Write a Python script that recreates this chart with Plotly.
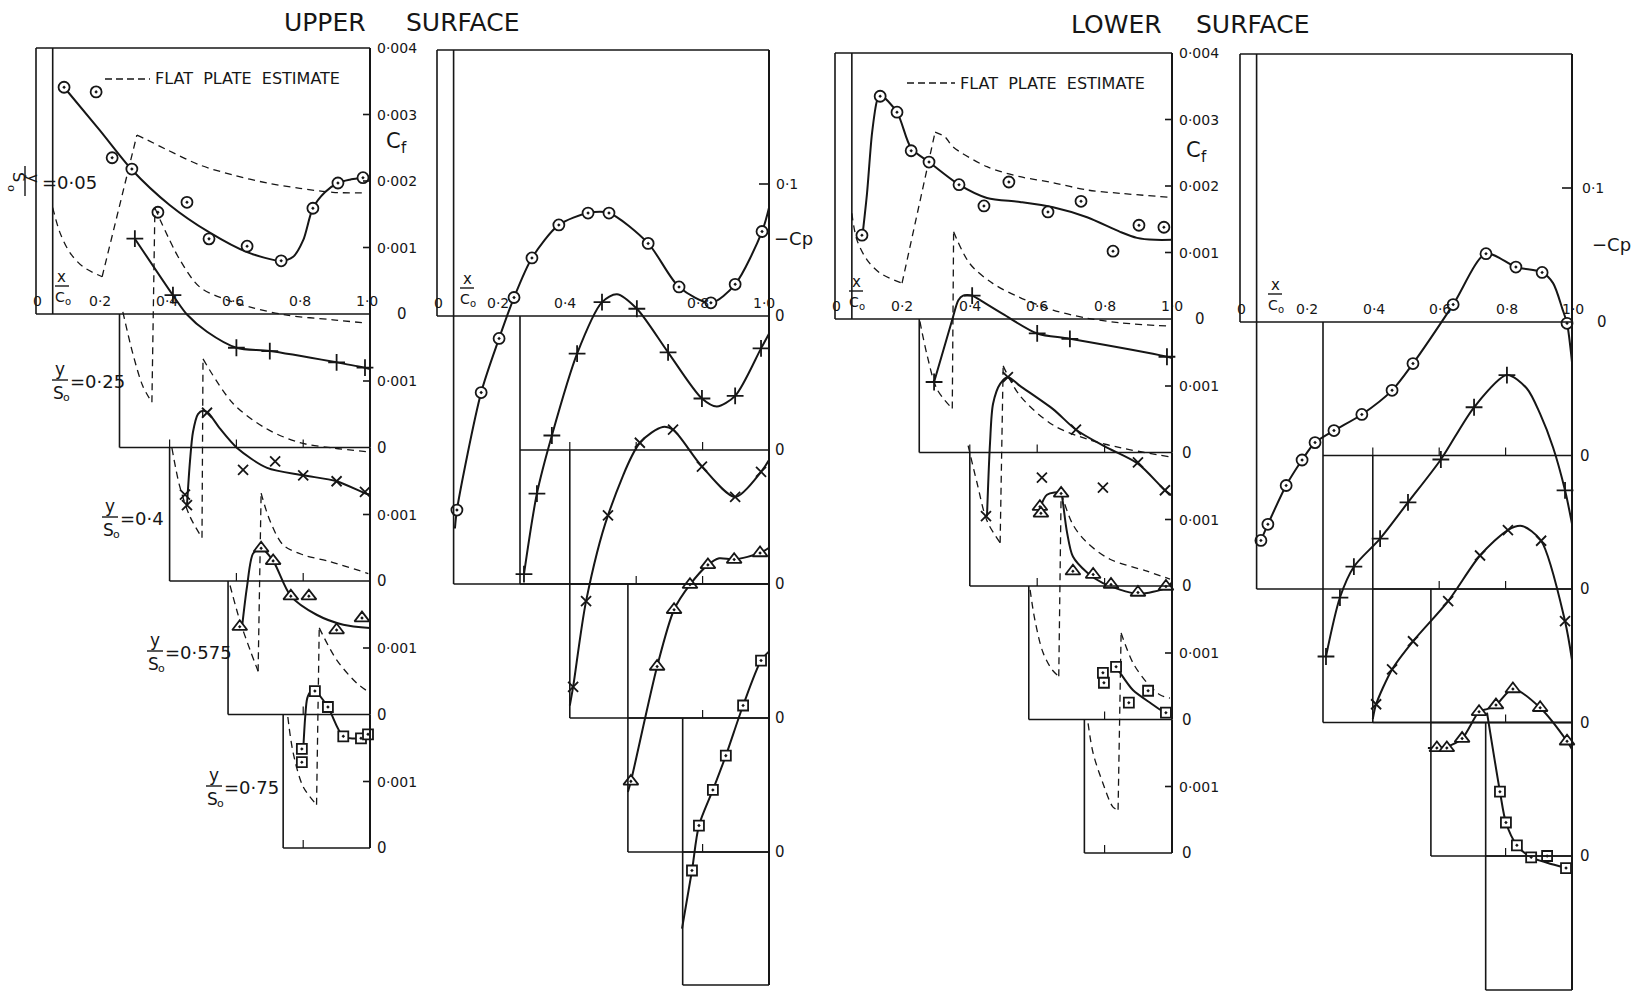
import plotly.graph_objects as go

W, H = 1638, 991
FONT = "DejaVu Sans"
INK = "#161616"

# ---------------------------------------------------------------- data
STATION_LABELS = ["0·05", "0·25", "0·4", "0·575", "0·75"]
LEADING_EDGE = [0.05, 0.25, 0.40, 0.575, 0.74]
SYMBOLS = ["circle-dot", "cross-thin-open", "x-thin-open", "triangle-up-dot", "square-dot"]
SYM_SIZE = [11, 12, 10, 13, 10]
SYM_FILL = ["white", "#161616", "#161616", "white", "white"]
CF_TOP_TICKS = [0.001, 0.002, 0.003, 0.004]
CF_TOP_TICK_TEXT = ["0·001", "0·002", "0·003", "0·004"]
CF_STATION_TICK = 0.001
CP_TICK = 0.1
X_TICKS = [0.2, 0.4, 0.6, 0.8, 1.0]
X_TICK_TEXT = ["0·2", "0·4", "0·6", "0·8", "1·0"]

# upper surface, skin friction Cf
ucf_pts_x = [
    [0.084, 0.18, 0.228, 0.287, 0.365, 0.452, 0.518, 0.632, 0.734, 0.829, 0.904, 0.979],
    [0.296, 0.41, 0.60, 0.70, 0.90, 0.985],
    [0.446, 0.452, 0.512, 0.62, 0.716, 0.80, 0.90, 0.985],
    [0.61, 0.674, 0.71, 0.763, 0.817, 0.90, 0.976],
    [0.796, 0.796, 0.835, 0.874, 0.92, 0.973, 0.994],
]
ucf_pts_cf = [
    [0.00341, 0.00334, 0.00235, 0.00218, 0.00153, 0.00168, 0.00113, 0.00102, 0.00080, 0.00159, 0.00197, 0.00205],
    [0.00314, 0.00229, 0.00150, 0.00145, 0.00128, 0.00120],
    [0.00130, 0.00114, 0.00253, 0.00167, 0.00180, 0.00159, 0.00150, 0.00134],
    [0.00132, 0.00250, 0.00231, 0.00178, 0.00178, 0.00127, 0.00145],
    [0.00149, 0.00129, 0.00236, 0.00212, 0.00168, 0.00165, 0.00171],
]
ucf_fit_x = [
    [0.084, 0.19, 0.287, 0.40, 0.518, 0.632, 0.734, 0.77, 0.80, 0.829, 0.865, 0.904, 0.94, 0.979, 1.0],
    [0.296, 0.41, 0.452, 0.512, 0.60, 0.70, 0.90, 0.985, 1.0],
    [0.452, 0.461, 0.47, 0.485, 0.50, 0.515, 0.551, 0.602, 0.692, 0.80, 0.90, 0.985, 1.0],
    [0.617, 0.632, 0.65, 0.674, 0.71, 0.763, 0.84, 0.92, 1.0],
    [0.80, 0.806, 0.812, 0.822, 0.835, 0.874, 0.92, 0.973, 1.0],
]
ucf_fit_cf = [
    [0.00341, 0.00277, 0.00217, 0.00164, 0.00123, 0.00093, 0.00080, 0.00086, 0.00111, 0.00159, 0.00183, 0.00197, 0.00202, 0.00205, 0.00207],
    [0.00314, 0.00229, 0.00200, 0.00174, 0.00150, 0.00145, 0.00128, 0.00120, 0.00118],
    [0.00114, 0.00180, 0.00224, 0.00251, 0.00256, 0.00253, 0.00229, 0.00200, 0.00170, 0.00159, 0.00150, 0.00132, 0.00130],
    [0.00132, 0.00193, 0.00242, 0.00250, 0.00231, 0.00178, 0.00150, 0.00135, 0.00130],
    [0.00147, 0.00197, 0.00225, 0.00235, 0.00236, 0.00212, 0.00168, 0.00165, 0.00170],
]
ucf_lam_x = [
    [0.05, 0.072, 0.102, 0.141, 0.198],
    [0.26, 0.29, 0.32, 0.347],
    [0.407, 0.43, 0.46, 0.497],
    [0.581, 0.611, 0.641, 0.665],
    [0.754, 0.77, 0.80, 0.84],
]
ucf_lam_cf = [
    [0.00160, 0.00122, 0.00092, 0.00071, 0.00056],
    [0.00204, 0.00141, 0.00092, 0.00068],
    [0.00200, 0.00143, 0.00098, 0.00065],
    [0.00194, 0.00140, 0.00097, 0.00065],
    [0.00197, 0.00143, 0.00092, 0.00065],
]
ucf_turb_x = [
    [0.302, 0.332, 0.392, 0.491, 0.59, 0.692, 0.79, 0.889, 0.991],
    [0.356, 0.431, 0.491, 0.572, 0.65, 0.751, 0.889, 0.99],
    [0.50, 0.59, 0.69, 0.79, 0.89, 1.0],
    [0.674, 0.70, 0.74, 0.80, 0.88, 0.995],
    [0.848, 0.90, 0.96, 0.995],
]
ucf_turb_cf = [
    [0.00269, 0.00262, 0.00247, 0.00224, 0.00209, 0.00197, 0.00189, 0.00183, 0.00182],
    [0.00360, 0.00282, 0.00241, 0.00222, 0.00210, 0.00199, 0.00192, 0.00187],
    [0.00334, 0.00267, 0.00229, 0.00208, 0.00200, 0.00194],
    [0.00333, 0.00292, 0.00255, 0.00240, 0.00230, 0.00212],
    [0.00331, 0.00283, 0.00248, 0.00235],
]

# lower surface, skin friction Cf
lcf_pts_x = [
    [0.08, 0.134, 0.184, 0.226, 0.279, 0.368, 0.442, 0.516, 0.632, 0.73, 0.825, 0.902, 0.976],
    [0.294, 0.407, 0.60, 0.697, 0.985],
    [0.448, 0.513, 0.614, 0.715, 0.795, 0.899, 0.979],
    [0.608, 0.611, 0.671, 0.706, 0.766, 0.819, 0.899, 0.982],
    [0.795, 0.798, 0.834, 0.872, 0.929, 0.982],
]
lcf_pts_cf = [
    [0.00126, 0.00335, 0.00311, 0.00253, 0.00236, 0.00202, 0.00170, 0.00206, 0.00161, 0.00177, 0.00102, 0.00141, 0.00138],
    [0.00106, 0.00236, 0.00179, 0.00171, 0.00144],
    [0.00105, 0.00314, 0.00163, 0.00235, 0.00148, 0.00186, 0.00144],
    [0.00320, 0.00310, 0.00340, 0.00223, 0.00218, 0.00203, 0.00191, 0.00200],
    [0.00271, 0.00256, 0.00280, 0.00226, 0.00244, 0.00211],
]
lcf_fit_x = [
    [0.08, 0.095, 0.11, 0.125, 0.134, 0.184, 0.226, 0.279, 0.368, 0.451, 0.549, 0.647, 0.748, 0.846, 0.896, 0.95, 1.0],
    [0.294, 0.347, 0.366, 0.38, 0.407, 0.421, 0.499, 0.60, 0.697, 0.985, 1.0],
    [0.451, 0.46, 0.469, 0.49, 0.513, 0.549, 0.647, 0.715, 0.80, 0.899, 0.979, 1.0],
    [0.608, 0.629, 0.671, 0.675, 0.688, 0.706, 0.748, 0.795, 0.899, 0.982, 1.0],
    [0.822, 0.834, 0.846, 0.884, 0.935, 0.982, 1.0],
]
lcf_fit_cf = [
    [0.00119, 0.00189, 0.00280, 0.00329, 0.00337, 0.00311, 0.00257, 0.00236, 0.00202, 0.00182, 0.00176, 0.00168, 0.00153, 0.00131, 0.00122, 0.00119, 0.00119],
    [0.00106, 0.00198, 0.00229, 0.00236, 0.00236, 0.00232, 0.00208, 0.00179, 0.00171, 0.00144, 0.00142],
    [0.00105, 0.00215, 0.00274, 0.00304, 0.00314, 0.00301, 0.00266, 0.00235, 0.00210, 0.00184, 0.00144, 0.00136],
    [0.00317, 0.00338, 0.00341, 0.00331, 0.00283, 0.00245, 0.00221, 0.00205, 0.00189, 0.00198, 0.00206],
    [0.00286, 0.00280, 0.00271, 0.00245, 0.00226, 0.00211, 0.00213],
]
lcf_lam_x = [
    [0.05, 0.065, 0.095, 0.134, 0.199],
    [0.252, 0.273, 0.303, 0.348],
    [0.395, 0.421, 0.451, 0.49],
    [0.579, 0.593, 0.617, 0.644, 0.664],
    [0.751, 0.766, 0.795, 0.825, 0.84],
]
lcf_lam_cf = [
    [0.00159, 0.00119, 0.00089, 0.00069, 0.00054],
    [0.00197, 0.00147, 0.00095, 0.00066],
    [0.00211, 0.00156, 0.00098, 0.00065],
    [0.00195, 0.00150, 0.00101, 0.00075, 0.00065],
    [0.00195, 0.00150, 0.00105, 0.00069, 0.00065],
]
lcf_turb_x = [
    [0.297, 0.326, 0.35, 0.451, 0.549, 0.647, 0.748, 0.846, 0.994],
    [0.352, 0.40, 0.469, 0.549, 0.647, 0.748, 0.846, 0.994],
    [0.499, 0.549, 0.647, 0.748, 0.846, 0.994],
    [0.671, 0.706, 0.748, 0.816, 0.926, 0.994],
    [0.849, 0.884, 0.926, 0.964, 0.994],
]
lcf_turb_cf = [
    [0.00281, 0.00274, 0.00259, 0.00229, 0.00214, 0.00205, 0.00194, 0.00189, 0.00183],
    [0.00332, 0.00284, 0.00254, 0.00233, 0.00214, 0.00202, 0.00195, 0.00190],
    [0.00331, 0.00286, 0.00242, 0.00221, 0.00208, 0.00194],
    [0.00341, 0.00293, 0.00266, 0.00241, 0.00223, 0.00211],
    [0.00331, 0.00286, 0.00256, 0.00238, 0.00233],
]

# upper surface, pressure (-Cp)
ucp_pts_x = [
    [0.06, 0.133, 0.187, 0.232, 0.286, 0.367, 0.455, 0.518, 0.636, 0.729, 0.825, 0.898, 0.979],
    [0.262, 0.301, 0.346, 0.422, 0.497, 0.602, 0.696, 0.798, 0.898, 0.976],
    [0.41, 0.449, 0.515, 0.611, 0.711, 0.798, 0.898, 0.976],
    [0.584, 0.663, 0.714, 0.762, 0.816, 0.895, 0.973],
    [0.768, 0.789, 0.831, 0.87, 0.922, 0.976],
]
ucp_pts_mcp = [
    [-0.147, -0.058, -0.017, 0.014, 0.044, 0.069, 0.078, 0.078, 0.055, 0.022, 0.010, 0.024, 0.064],
    [-0.094, -0.033, 0.011, 0.073, 0.112, 0.107, 0.074, 0.039, 0.041, 0.077],
    [-0.078, -0.013, 0.052, 0.107, 0.117, 0.089, 0.066, 0.085],
    [-0.048, 0.039, 0.082, 0.101, 0.116, 0.120, 0.125],
    [-0.014, 0.020, 0.047, 0.073, 0.111, 0.145],
]
ucp_fit_x = [
    [0.054, 0.06, 0.133, 0.187, 0.232, 0.286, 0.367, 0.455, 0.518, 0.636, 0.729, 0.825, 0.898, 0.979, 1.0],
    [0.262, 0.301, 0.346, 0.422, 0.497, 0.542, 0.602, 0.696, 0.798, 0.843, 0.898, 0.976, 1.0],
    [0.40, 0.41, 0.449, 0.515, 0.611, 0.68, 0.711, 0.798, 0.898, 0.976, 1.0],
    [0.575, 0.584, 0.663, 0.714, 0.762, 0.816, 0.85, 0.895, 0.973, 1.0],
    [0.738, 0.768, 0.789, 0.831, 0.87, 0.922, 0.976, 1.0],
]
ucp_fit_mcp = [
    [-0.161, -0.147, -0.058, -0.017, 0.014, 0.044, 0.069, 0.078, 0.078, 0.055, 0.022, 0.010, 0.024, 0.064, 0.082],
    [-0.094, -0.033, 0.011, 0.073, 0.112, 0.118, 0.107, 0.074, 0.039, 0.033, 0.041, 0.077, 0.088],
    [-0.092, -0.078, -0.013, 0.052, 0.107, 0.119, 0.117, 0.089, 0.066, 0.085, 0.094],
    [-0.056, -0.048, 0.039, 0.082, 0.101, 0.116, 0.121, 0.120, 0.125, 0.129],
    [-0.058, -0.014, 0.020, 0.047, 0.073, 0.111, 0.145, 0.152],
]

# lower surface, pressure (-Cp)
lcp_pts_x = [
    [0.063, 0.084, 0.139, 0.187, 0.226, 0.283, 0.367, 0.458, 0.521, 0.642, 0.741, 0.831, 0.91, 0.985],
    [0.259, 0.301, 0.343, 0.422, 0.506, 0.605, 0.705, 0.804, 0.979],
    [0.41, 0.458, 0.521, 0.627, 0.723, 0.807, 0.907, 0.979],
    [0.593, 0.623, 0.669, 0.72, 0.771, 0.822, 0.904, 0.985],
    [0.783, 0.801, 0.834, 0.877, 0.925, 0.982],
]
lcp_pts_mcp = [
    [-0.163, -0.151, -0.122, -0.103, -0.090, -0.081, -0.069, -0.051, -0.031, 0.013, 0.051, 0.041, 0.037, -0.001],
    [-0.150, -0.106, -0.083, -0.062, -0.035, -0.003, 0.036, 0.060, -0.026],
    [-0.086, -0.060, -0.039, -0.009, 0.025, 0.044, 0.036, -0.024],
    [-0.019, -0.019, -0.012, 0.008, 0.013, 0.025, 0.011, -0.014],
    [0.048, 0.025, 0.008, -0.001, 0.000, -0.009],
]
lcp_fit_x = [
    [0.063, 0.084, 0.139, 0.187, 0.226, 0.283, 0.367, 0.458, 0.521, 0.642, 0.741, 0.831, 0.91, 0.943, 0.972, 0.985, 1.0],
    [0.259, 0.301, 0.343, 0.422, 0.506, 0.605, 0.705, 0.804, 0.864, 0.904, 0.943, 0.979, 1.0],
    [0.40, 0.41, 0.458, 0.521, 0.627, 0.723, 0.807, 0.849, 0.907, 0.979, 1.0],
    [0.566, 0.593, 0.623, 0.669, 0.72, 0.744, 0.771, 0.822, 0.904, 0.985, 1.0],
    [0.744, 0.783, 0.801, 0.834, 0.877, 0.925, 0.982],
]
lcp_fit_mcp = [
    [-0.163, -0.151, -0.122, -0.103, -0.090, -0.081, -0.069, -0.051, -0.031, 0.013, 0.051, 0.041, 0.037, 0.029, 0.009, -0.001, -0.030],
    [-0.150, -0.106, -0.083, -0.062, -0.035, -0.003, 0.036, 0.060, 0.050, 0.031, 0.006, -0.026, -0.051],
    [-0.097, -0.086, -0.060, -0.039, -0.009, 0.025, 0.044, 0.047, 0.036, -0.024, -0.053],
    [-0.019, -0.019, -0.018, -0.012, 0.008, 0.010, 0.013, 0.025, 0.011, -0.014, -0.020],
    [0.107, 0.048, 0.025, 0.008, -0.001, -0.005, -0.009],
]

# ---------------------------------------------------------------- layout geometry (pixels)
PANELS = [
    dict(kind="cf", x0=36, sx=334, sy=66500.0, zeros=[314, 447.5, 581, 714.5, 848],
         box_top=[48, 314, 447.5, 581, 714.5], box_bottom=[314, 447.5, 581, 714.5, 848],
         pts=(ucf_pts_x, ucf_pts_cf), fit=(ucf_fit_x, ucf_fit_cf),
         lam=(ucf_lam_x, ucf_lam_cf), turb=(ucf_turb_x, ucf_turb_cf),
         zero_shift=[32, 12, 12, 12, 12], xlab=[0.2, 0.4, 0.6, 0.8, 1.0], xlab_shift=-3,
         frac_px=62, legend=(105, 150, 79), unit_px=(397, 143)),
    dict(kind="cp", x0=437, sx=332, sy=1320.0, zeros=[316, 450, 584, 718, 852],
         box_top=[50, 316, 450, 584, 718], box_bottom=[584, 584, 718, 852, 985],
         pts=(ucp_pts_x, ucp_pts_mcp), fit=(ucp_fit_x, ucp_fit_mcp),
         zero_shift=[11, 11, 11, 11, 11], xlab=[0.2, 0.4, 0.8, 1.0], xlab_shift=-5,
         frac_px=467, unit_px=(772, 238), tick_lab_px=772),
    dict(kind="cf", x0=835, sx=337, sy=66500.0, zeros=[319, 452.5, 586, 719.5, 853],
         box_top=[53, 319, 452.5, 586, 719.5], box_bottom=[319, 452.5, 586, 719.5, 853],
         pts=(lcf_pts_x, lcf_pts_cf), fit=(lcf_fit_x, lcf_fit_cf),
         lam=(lcf_lam_x, lcf_lam_cf), turb=(lcf_turb_x, lcf_turb_cf),
         zero_shift=[28, 15, 15, 15, 15], xlab=[0.2, 0.4, 0.6, 0.8, 1.0], xlab_shift=0,
         frac_px=856, legend=(907, 955, 83), unit_px=(1197, 152)),
    dict(kind="cp", x0=1240, sx=332, sy=1340.0, zeros=[322, 455.5, 589, 722.5, 856],
         box_top=[54, 322, 455.5, 589, 722.5], box_bottom=[589, 722.5, 722.5, 856, 990],
         pts=(lcp_pts_x, lcp_pts_mcp), fit=(lcp_fit_x, lcp_fit_mcp),
         zero_shift=[30, 13, 13, 13, 13], xlab=[0.2, 0.4, 0.6, 0.8, 1.0], xlab_shift=1,
         frac_px=1275, unit_px=(1590, 245), tick_lab_px=1578),
]


def pxx(px):
    return px / W


def pxy(py):
    return 1 - py / H


def font(size):
    return dict(family=FONT, size=size, color=INK)


fig = go.Figure()
shapes, annotations = [], []
layout_axes = {}


def seg(xref, yref, x0, y0, x1, y1, width=1.6, dash=None):
    line = dict(color=INK, width=width)
    if dash:
        line["dash"] = dash
    shapes.append(dict(type="line", xref=xref, yref=yref, x0=x0, y0=y0, x1=x1, y1=y1, line=line, layer="above"))


def text(t, xref, yref, x, y, size=14, xanchor="center", yanchor="middle", xshift=0, yshift=0, angle=0):
    annotations.append(dict(text=t, xref=xref, yref=yref, x=x, y=y, showarrow=False, font=font(size),
                            xanchor=xanchor, yanchor=yanchor, xshift=xshift, yshift=yshift, textangle=angle))


def ptext(t, px, py, size=14, xanchor="center", angle=0):
    text(t, "paper", "paper", pxx(px), pxy(py), size=size, xanchor=xanchor, angle=angle)


def pline(x0, y0, x1, y1, width=1.4, dash=None):
    line = dict(color=INK, width=width)
    if dash:
        line["dash"] = dash
    shapes.append(dict(type="line", xref="paper", yref="paper", x0=pxx(x0), x1=pxx(x1),
                       y0=pxy(y0), y1=pxy(y1), line=line))


for pi, P in enumerate(PANELS):
    xn = pi + 1
    xref = "x" if xn == 1 else f"x{xn}"
    xkey = "xaxis" if xn == 1 else f"xaxis{xn}"
    sx, x0 = P["sx"], P["x0"]
    first_y = pi * 5 + 1
    layout_axes[xkey] = dict(domain=[0, 1], range=[-x0 / sx, (W - x0) / sx], visible=False,
                             fixedrange=True, anchor="y" if first_y == 1 else f"y{first_y}")
    sy = P["sy"]
    for k in range(5):
        yn = pi * 5 + k + 1
        yref = "y" if yn == 1 else f"y{yn}"
        ykey = "yaxis" if yn == 1 else f"yaxis{yn}"
        z = P["zeros"][k]
        layout_axes[ykey] = dict(domain=[0, 1], range=[(z - H) / sy, z / sy], visible=False,
                                 fixedrange=True, anchor=xref)
        le = LEADING_EDGE[k]
        ytop = (z - P["box_top"][k]) / sy
        ybot = (z - P["box_bottom"][k]) / sy
        tick_len = 8 / sy
        # frame
        if k == 0:
            seg(xref, yref, 0, ytop, 1, ytop)
            seg(xref, yref, 0, ytop, 0, 0)
            seg(xref, yref, 0, 0, 1, 0)
        else:
            seg(xref, yref, le, 0, 1, 0)
            for t in X_TICKS[:-1]:
                if t > le + 0.03:
                    seg(xref, yref, t, 0, t, tick_len, width=1.2)
        seg(xref, yref, le, ytop, le, ybot)
        if abs(ybot) > 1e-12:
            seg(xref, yref, le, ybot, 1, ybot)
        seg(xref, yref, 1, ytop, 1, ybot, width=2.0)
        # right-hand scale
        if P["kind"] == "cf":
            ticks = CF_TOP_TICKS if k == 0 else [CF_STATION_TICK]
            labels = CF_TOP_TICK_TEXT if k == 0 else [CF_TOP_TICK_TEXT[0]]
            for tv, tl in zip(ticks, labels):
                if tv < 0.0039:
                    seg(xref, yref, 1 - 7 / sx, tv, 1, tv, width=1.6)
                text(tl, xref, yref, 1, tv, size=14, xanchor="left", xshift=5)
        else:
            if k == 0:
                seg(xref, yref, 1 - 10 / sx, CP_TICK, 1, CP_TICK, width=1.6)
                text("0·1", xref, yref, 1, CP_TICK, size=14, xanchor="left", xshift=P["tick_lab_px"] - (x0 + sx) + 2)
        text("0", xref, yref, 1, 0, size=15, xshift=P["zero_shift"][k])

        # flat plate estimate (dashed)
        if "lam" in P:
            lx, ly = P["lam"][0][k], P["lam"][1][k]
            tx, ty = P["turb"][0][k], P["turb"][1][k]
            dash_line = dict(color=INK, width=1.3, dash="7px,5px")
            fig.add_trace(go.Scatter(x=lx, y=ly, mode="lines", line=dict(shape="spline", smoothing=0.9, **dash_line),
                                     xaxis=xref, yaxis=yref, hoverinfo="skip"))
            fig.add_trace(go.Scatter(x=[lx[-1], tx[0]], y=[ly[-1], ty[0]], mode="lines", line=dash_line,
                                     xaxis=xref, yaxis=yref, hoverinfo="skip"))
            fig.add_trace(go.Scatter(x=tx, y=ty, mode="lines", line=dict(shape="spline", smoothing=0.9, **dash_line),
                                     xaxis=xref, yaxis=yref, hoverinfo="skip"))
        # faired curve
        fx, fy = P["fit"][0][k], P["fit"][1][k]
        fig.add_trace(go.Scatter(x=fx, y=fy, mode="lines", line=dict(color=INK, width=2.0, shape="spline", smoothing=0.8),
                                 xaxis=xref, yaxis=yref, hoverinfo="skip"))
        # measured points
        px_, py_ = P["pts"][0][k], P["pts"][1][k]
        fig.add_trace(go.Scatter(x=px_, y=py_, mode="markers", xaxis=xref, yaxis=yref, hoverinfo="skip",
                                 marker=dict(symbol=SYMBOLS[k], size=SYM_SIZE[k], color=SYM_FILL[k],
                                             line=dict(color=INK, width=1.8))))

    # x-axis labels along the top zero line
    y0ref = "y" if first_y == 1 else f"y{first_y}"
    text("0", xref, y0ref, 0, 0, size=14, yanchor="bottom", yshift=3, xshift=1)
    for tv in P["xlab"]:
        text(X_TICK_TEXT[X_TICKS.index(tv)], xref, y0ref, tv, 0, size=14, yanchor="bottom", yshift=3,
             xshift=P["xlab_shift"])
    z0 = P["zeros"][0]
    fx_ = P["frac_px"]
    ptext("x", fx_, z0 - 37, size=15)
    pline(fx_ - 7, z0 - 28, fx_ + 7, z0 - 28)
    ptext("C", fx_ - 2, z0 - 17, size=14)
    ptext("o", fx_ + 6, z0 - 13, size=10)

    # unit labels and legend
    ux, uy = P["unit_px"]
    if P["kind"] == "cf":
        ptext("C", ux - 4, uy - 2, size=21)
        ptext("f", ux + 7, uy + 5, size=15)
        lx0, lx1, ly0 = P["legend"]
        pline(lx0, ly0, lx1, ly0, width=1.3, dash="7px,4px")
        ptext("FLAT  PLATE  ESTIMATE", lx1 + 3, ly0, size=16, xanchor="left")
    else:
        ptext("−Cp", ux, uy, size=18, xanchor="left")

# titles
ptext("UPPER", 325, 23, size=25)
ptext("SURFACE", 463, 23, size=25)
ptext("LOWER", 1116, 24, size=25)
ptext("SURFACE", 1253, 24, size=25)

# spanwise station labels (upper-surface skin friction panel)
# station 0.05: fraction written sideways
ptext("S", 18, 177, size=16, angle=90)
ptext("o", 12, 188, size=11, angle=90)
ptext("y", 33, 178, size=15, angle=90)
pline(25, 166, 25, 196)
ptext("=0·05", 40, 183, size=18, xanchor="left")
STATION_LABEL_PX = [None, (60, 381), (110, 518), (155, 652), (214, 787)]
for k in range(1, 5):
    cx, cy = STATION_LABEL_PX[k]
    ptext("y", cx, cy - 12, size=17)
    pline(cx - 8, cy - 1, cx + 8, cy - 1)
    ptext("S", cx - 2, cy + 12, size=17)
    ptext("o", cx + 6, cy + 16, size=11)
    ptext("=" + STATION_LABELS[k], cx + 8, cy, size=18, xanchor="left")

fig.update_layout(
    width=W, height=H, margin=dict(l=0, r=0, t=0, b=0, pad=0),
    paper_bgcolor="white", plot_bgcolor="rgba(0,0,0,0)", showlegend=False,
    shapes=shapes, annotations=annotations, **layout_axes,
)
fig.write_html("out.html")
